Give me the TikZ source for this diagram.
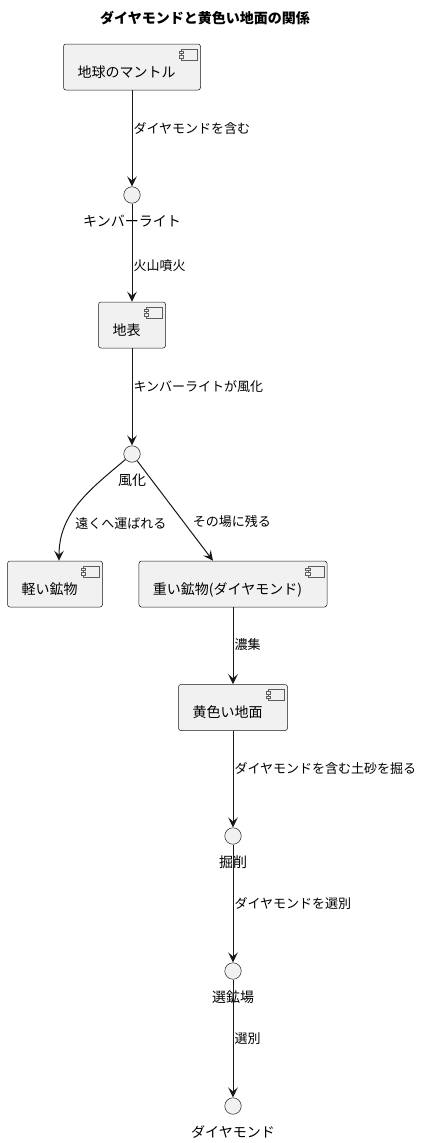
\documentclass[tikz,border=0pt]{standalone}
\usepackage{fontspec}
\setmainfont{Noto Sans CJK JP}
\usetikzlibrary{arrows.meta}
\definecolor{plfill}{HTML}{F1F1F1}
\definecolor{plline}{HTML}{181818}

\begin{document}
\begin{tikzpicture}[x=1pt,y=1pt]
	\tikzstyle{comp}=[draw=plline,fill=plfill,line width=0.5pt,rounded corners=2.5pt,
		inner xsep=14pt,inner ysep=0pt,text height=33pt,text depth=13pt,
		font=\fontsize{14}{16}\selectfont,execute at end node={\hspace{11pt}}]
	\tikzstyle{iface}=[circle,draw=plline,fill=plfill,line width=0.5pt,minimum size=16.5pt,inner sep=0pt]
	\tikzstyle{ilbl}=[inner sep=0pt,font=\fontsize{14}{16}\selectfont]
	\tikzstyle{elbl}=[inner xsep=1pt,inner ysep=0pt,anchor=west,font=\fontsize{13}{15}\selectfont]
	\tikzstyle{flow}=[draw=plline,line width=1pt,-{Stealth[length=10pt,width=9.5pt,inset=4pt]}]
	\tikzstyle{icon}=[draw=plline!70,line width=0.5pt,fill=plfill]
	\useasboundingbox[fill=white] (0,0) rectangle (423,-1143);
	\node[font=\bfseries\fontsize{14}{16}\selectfont] (title) at (205,-18) {ダイヤモンドと黄色い地面の関係};
	% components
	\node[comp] (mantle) at (132,-67) {地球のマントル};
	\node[comp] (surface) at (132,-325) {地表};
	\node[comp] (light) at (55,-584) {軽い鉱物};
	\node[comp] (heavy) at (233,-584) {重い鉱物(ダイヤモンド)};
	\node[comp] (yellow) at (233,-707.5) {黄色い地面};
	\foreach \b in {mantle,surface,light,heavy,yellow}{
		\draw[icon] ([shift={(-19.5,-5)}]\b.north east) rectangle ([shift={(-3.5,-16)}]\b.north east);
		\draw[icon] ([shift={(-22,-7)}]\b.north east) rectangle ([shift={(-17.5,-9.5)}]\b.north east);
		\draw[icon] ([shift={(-22,-11.5)}]\b.north east) rectangle ([shift={(-17.5,-14)}]\b.north east);
	}
	% interfaces
	\node[iface] (kimb) at (132,-195) {};
	\node[ilbl] (kimb-t) at (132,-221) {キンバーライト};
	\node[iface] (fuka) at (132,-454) {};
	\node[ilbl] (fuka-t) at (132,-480) {風化};
	\node[iface] (kussaku) at (233,-836) {};
	\node[ilbl] (kussaku-t) at (233,-862) {掘削};
	\node[iface] (senko) at (233,-971) {};
	\node[ilbl] (senko-t) at (233,-997) {選鉱場};
	\node[iface] (dia) at (233,-1106) {};
	\node[ilbl] (dia-t) at (233,-1132) {ダイヤモンド};
	% connectors
	\draw[flow] (mantle) -- node[elbl,pos=0.40] {ダイヤモンドを含む} (kimb);
	\draw[flow] (kimb) -- node[elbl,pos=0.63] {火山噴火} (surface);
	\draw[flow] (surface) -- node[elbl,pos=0.39] {キンバーライトが風化} (fuka);
	\draw[flow] (fuka) to[out=-140,in=90] node[elbl,pos=0.7,xshift=7.5pt] {遠くへ運ばれる} ([xshift=4pt]light.north);
	\draw[flow] (fuka) -- node[elbl,pos=0.61,xshift=8pt] {その場に残る} ([xshift=-20pt]heavy.north);
	\draw[flow] (heavy) -- node[elbl,pos=0.49] {濃集} (yellow);
	\draw[flow] (yellow) -- node[elbl,pos=0.39] {ダイヤモンドを含む土砂を掘る} (kussaku);
	\draw[flow] (kussaku) -- node[elbl,pos=0.5] {ダイヤモンドを選別} (senko);
	\draw[flow] (senko) -- node[elbl,pos=0.5] {選別} (dia);
\end{tikzpicture}
\end{document}
